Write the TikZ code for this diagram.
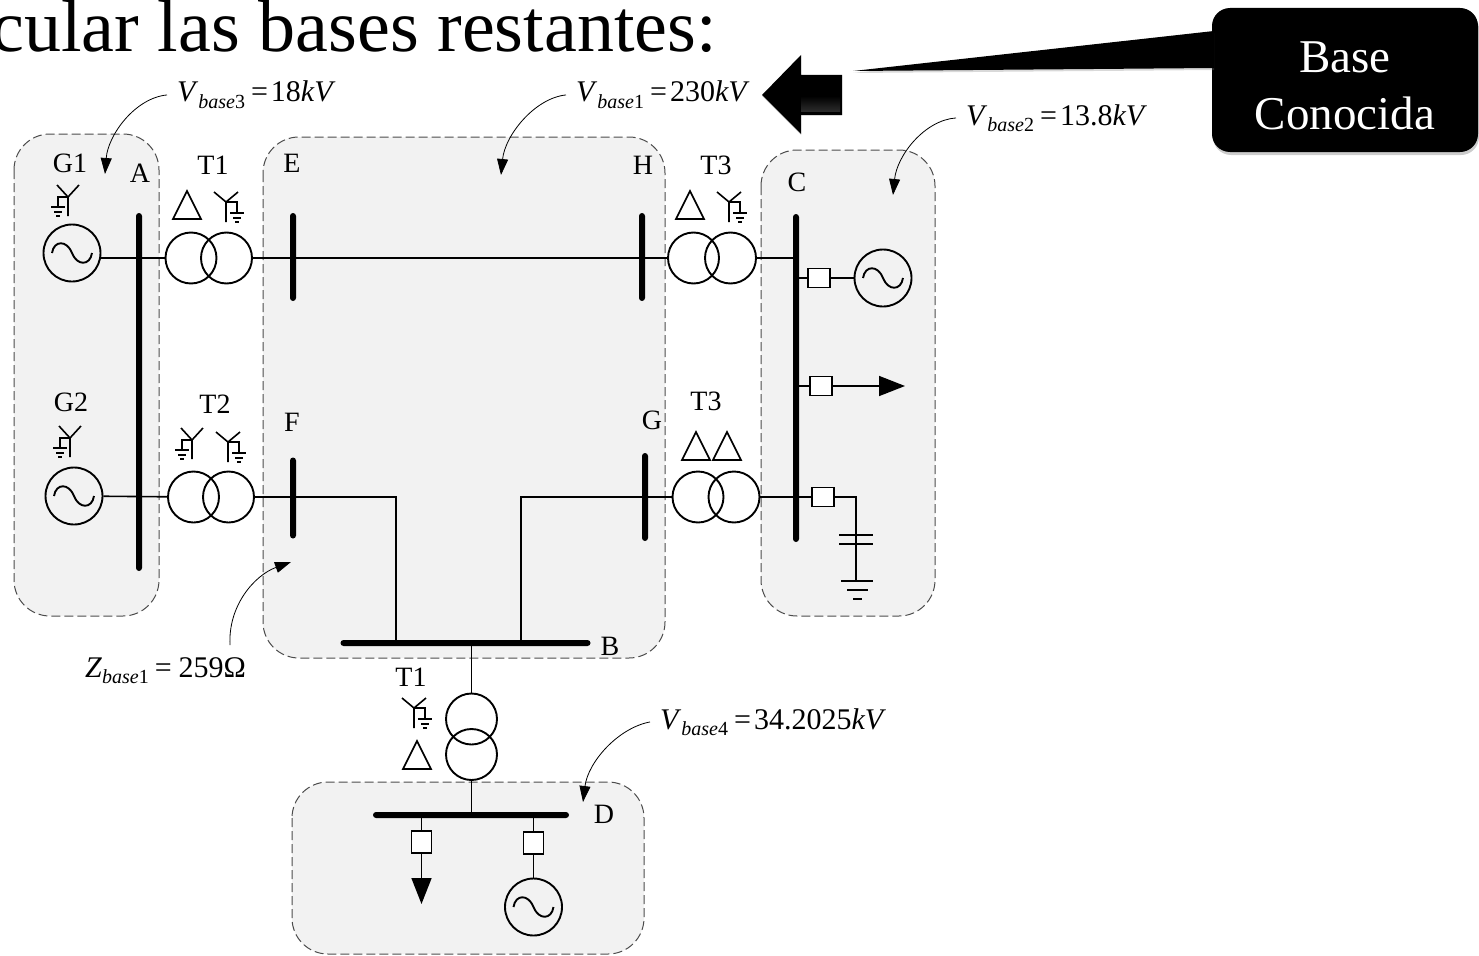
\documentclass[tikz,border=0pt]{standalone}
\usepackage{fontspec}
\setmainfont{Liberation Serif}
\usetikzlibrary{arrows.meta}
\usetikzlibrary{shadows}

\definecolor{zonegray}{HTML}{F2F2F2}

\newcommand{\baselbl}[3]{\textit{#1}\raisebox{-6.5pt}{\fontsize{20}{20}\selectfont\textit{base}#2}\hspace{6pt}=\hspace{3pt}#3}

\tikzset{
  x=1pt,y=-1pt,
  zone/.style={draw=black!70,fill=zonegray,line width=1pt,dash pattern=on 9pt off 4pt,rounded corners=36pt},
  bus/.style={fill=black,inner sep=0pt,rounded corners=3pt},
  gen/.style={circle,draw,line width=1.9pt,inner sep=0pt,minimum size=57pt},
  winding/.style={circle,draw,line width=1.9pt,inner sep=0pt,minimum size=51pt},
  breaker/.style={rectangle,draw,line width=1.6pt,fill=white,inner sep=0pt,minimum width=22pt,minimum height=19pt},
  wire/.style={line width=1.6pt},
  tag/.style={font=\fontsize{28}{30}\selectfont,inner sep=0pt},
  baselabel/.style={font=\fontsize{30}{34}\selectfont,inner ysep=0pt,inner xsep=10pt,anchor=base west},
  leader/.style={line width=.8pt,-{Triangle[length=16pt,width=11pt]}},
  loadtip/.style={wire,-{Triangle[length=26pt,width=20pt]}},
  acsine/.pic={\draw[line width=1.9pt] (-20,0) .. controls (-18,-13) and (-5,-13) .. (0,0) .. controls (5,13) and (18,13) .. (20,0);},
  delta/.pic={\draw[line width=1.6pt,line join=miter] (-14,14) -- (0,-14) -- (14,14) -- cycle;},
  wyeleft/.pic={
    \draw[line width=1.6pt] (-11,-12) -- (0,0) -- (11,-12) (0,0) -- (0,19);
    \draw[line width=1.6pt] (0,0) -- (-10,0) -- (-10,10);
    \draw[line width=1.6pt] (-17,10) -- (-3,10) (-14,15) -- (-6,15) (-12,19) -- (-8,19);
  },
  wyeright/.pic={
    \draw[line width=1.6pt] (-12,-10) -- (0,0) -- (12,-10) (0,0) -- (0,20);
    \draw[line width=1.6pt] (0,0) -- (11,0) -- (11,11);
    \draw[line width=1.6pt] (4,11) -- (18,11) (7,16) -- (15,16) (9,20) -- (13,20);
  },
  capground/.pic={
    \draw[line width=1.6pt] (0,0) -- (0,9) (0,9) -- (0,46);
    \draw[line width=1.9pt] (-17,0) -- (17,0) (-17,9) -- (17,9);
    \draw[line width=1.6pt] (-15,46) -- (17,46) (-9,55) -- (12,55) (-3,64) -- (6,64);
  }
}

\begin{document}
\begin{tikzpicture}
      \useasboundingbox (0,0) rectangle (1479,955);

      % zones
      \draw[zone] (14,134) rectangle (159,616);
      \draw[zone] (263,137) rectangle (665,658);
      \draw[zone] (761,150) rectangle (935,616);
      \draw[zone] (292,782) rectangle (644,954);

      \node[font=\fontsize{74}{80}\selectfont,inner sep=0pt,anchor=base east] (title) at (717,52) {cular las bases restantes:};

      \begin{scope}[every node/.style={bus,minimum width=6pt}]
        \node[minimum height=358pt] (busA) at (139,392) {};
        \node[minimum height=88pt] (busE) at (293,257) {};
        \node[minimum height=88pt] (busH) at (642,257) {};
        \node[minimum height=81pt] (busF) at (293,498) {};
        \node[minimum height=88pt] (busG) at (645,497) {};
        \node[minimum height=328pt] (busC) at (796,378) {};
      \end{scope}
      \begin{scope}[every node/.style={bus,minimum height=6pt}]
        \node[minimum width=250pt] (busB) at (465.5,643) {};
        \node[minimum width=196pt] (busD) at (471,815) {};
      \end{scope}

      \begin{scope}[every node/.style={gen}]
        \node (genA) at (72,253) {};
        \node (genF) at (74,496) {};
        \node (genC) at (883,278) {};
        \node (genD) at (533.5,907) {};
      \end{scope}
      \pic at (genA) {acsine};
      \pic at (genF) {acsine};
      \pic at (genC) {acsine};
      \pic at (genD) {acsine};

      \begin{scope}[every node/.style={winding}]
        \node (tAa) at (191,258) {};
        \node (tAb) at (226.5,258) {};
        \node (tFa) at (193.5,497) {};
        \node (tFb) at (228.5,497) {};
        \node (tHa) at (693.5,258) {};
        \node (tHb) at (730.5,258) {};
        \node (tGa) at (698,497) {};
        \node (tGb) at (734,497) {};
        \node (tBa) at (471.5,719) {};
        \node (tBb) at (471.5,754.5) {};
      \end{scope}

      \begin{scope}[every node/.style={breaker}]
        \node (brkCa) at (819,278) {};
        \node (brkCb) at (821,386) {};
        \node (brkCc) at (823,497) {};
        \node[minimum width=20pt,minimum height=22pt] (brkDa) at (421.5,842) {};
        \node[minimum width=20pt,minimum height=22pt] (brkDb) at (533.5,843) {};
      \end{scope}

      \coordinate (loadC) at (905,386);
      \coordinate (loadD) at (421.5,904);
      \coordinate (bendF) at (396,497);
      \coordinate (bendG) at (521,497);
      \coordinate (capC) at (856,535);

      \begin{scope}[wire]
        \draw (genA.east |- tAa) -- (tAa);
        \draw (tAb) -- (tHa);
        \draw (tHb) -- (tHb -| busC);
        \draw (genF) -- (tFa);
        \draw (tFb) -- (bendF) -- (bendF |- busB);
        \draw (bendG |- busB) -- (bendG) -- (tGa);
        \draw (tGb) -- (tGb -| busC);
        \draw (busC.center |- brkCa) -- (brkCa);
        \draw (brkCa) -- (genC);
        \draw (busC.center |- brkCb) -- (brkCb);
        \draw (busC.center |- brkCc) -- (brkCc);
        \draw (brkCc) -| (capC);
        \draw (tBa |- busB) -- (tBa);
        \draw (tBb) -- (tBb |- busD);
        \draw (brkDa |- busD) -- (brkDa);
        \draw (brkDb |- busD) -- (brkDb);
        \draw (brkDb) -- (genD);
      \end{scope}
      \draw[loadtip] (brkCb) -- (loadC);
      \draw[loadtip] (brkDa) -- (loadD);

      \pic at (capC) {capground};

      \pic at (68,197) {wyeleft};
      \pic at (70,438) {wyeleft};
      \pic at (192,440) {wyeleft};
      \pic at (226,202) {wyeright};
      \pic at (228,442) {wyeright};
      \pic at (729,202) {wyeright};
      \pic at (414,708) {wyeright};
      \pic at (187,205) {delta};
      \pic at (690,205) {delta};
      \pic at (696,446) {delta};
      \pic at (727,446) {delta};
      \pic at (417,755) {delta};

      \begin{scope}[every node/.style={tag}]
        \node (tagGa) at (70,163) {G1};
        \node (tagA) at (140,173) {A};
        \node (tagTa) at (213,165) {T1};
        \node (tagE) at (292,163) {E};
        \node (tagH) at (643,165) {H};
        \node (tagTd) at (716,165) {T3};
        \node (tagC) at (797,182) {C};
        \node (tagGb) at (71,402) {G2};
        \node (tagTb) at (215,404) {T2};
        \node (tagF) at (292,422) {F};
        \node (tagG) at (652,420) {G};
        \node (tagTe) at (706,401) {T3};
        \node (tagB) at (610,646) {B};
        \node (tagTc) at (411,677) {T1};
        \node (tagD) at (604,814) {D};
      \end{scope}

      \begin{scope}[every node/.style={baselabel}]
        \node (vbThree) at (167,102) {\baselbl{V}{3}{18\textit{kV}}};
        \node (vbOne) at (566,102) {\baselbl{V}{1}{230\textit{kV}}};
        \node (vbTwo) at (956,125) {\baselbl{V}{2}{13.8\textit{kV}}};
        \node (vbFour) at (650,729) {\baselbl{V}{4}{34.2025\textit{kV}}};
        \node (zbOne) at (75,677) {\baselbl{Z}{1}{\hspace{4pt}259Ω}};
      \end{scope}

      \coordinate (tipThree) at (105,174);
      \coordinate (tipOne) at (501,175);
      \coordinate (tipTwo) at (893,195);
      \coordinate (tipFour) at (583,802);
      \coordinate (tipZ) at (291,562);
      \coordinate (startZ) at (230,645);

      \draw[leader] (vbThree.west) .. controls (135,98) and (108,135) .. (tipThree);
      \draw[leader] (vbOne.west) .. controls (535,98) and (505,135) .. (tipOne);
      \draw[leader] (vbTwo.west) .. controls (925,120) and (897,155) .. (tipTwo);
      \draw[leader] (vbFour.west) .. controls (618,728) and (588,762) .. (tipFour);
      \draw[leader] (startZ) .. controls (228,605) and (255,575) .. (tipZ);

      % callout and block arrow
      \node[fill=black,text=white,rounded corners=18pt,minimum width=266pt,minimum height=144pt,inner sep=0pt,align=center,
            font=\fontsize{47}{57}\selectfont,drop shadow={shadow xshift=1pt,shadow yshift=-3pt,opacity=.4}] (known) at (1345,80) {\rule{0pt}{42pt}Base\\Conocida};
      \coordinate (pointTip) at (853,71);
      \coordinate (pointTop) at (1214,31);
      \coordinate (pointBot) at (1214,68);
      \fill[black,drop shadow={shadow xshift=0pt,shadow yshift=-2pt,opacity=.3}] (pointTip) -- (pointTop) -- (pointBot) -- cycle;
      \fill[black,drop shadow={shadow xshift=0pt,shadow yshift=-1pt,opacity=.3}] (762,95) -- (801,55) -- (801,75) -- (842,75) -- (842,115) -- (801,115) -- (801,134) -- cycle;
      \shade[top color=black,bottom color=black!82] (801,96) rectangle (840,112);
    \end{tikzpicture}
\end{document}
